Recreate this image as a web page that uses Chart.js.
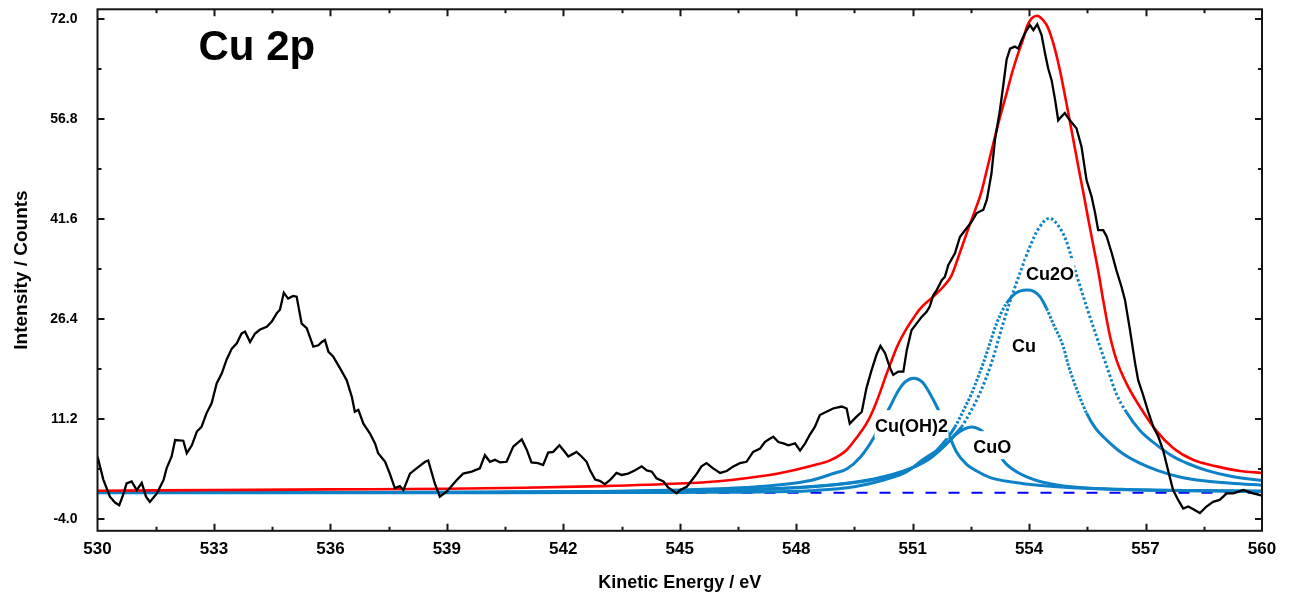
<!DOCTYPE html>
<html><head><meta charset="utf-8">
<script src="https://cdn.jsdelivr.net/npm/chart.js@4.4.1/dist/chart.umd.min.js"></script>
<style>html,body{margin:0;padding:0;background:#fff;}canvas{display:block;}</style>
</head><body>
<canvas id="c" width="1295" height="595"></canvas>
<script>
// ---------- data ----------
const xTickValues = [530, 533, 536, 539, 542, 545, 548, 551, 554, 557, 560];
const yTickValues = [-4.0, 11.2, 26.4, 41.6, 56.8, 72.0];

// measured spectrum (black)
const expE = [530.00,530.15,530.32,530.45,530.56,530.65,530.75,530.88,531.01,531.14,531.25,531.35,531.53,531.70,531.78,531.91,532.00,532.21,532.30,532.43,532.56,532.68,532.81,532.94,533.07,533.20,533.33,533.46,533.59,533.71,533.80,533.93,534.06,534.19,534.36,534.49,534.62,534.70,534.80,534.91,535.04,535.13,535.26,535.39,535.56,535.69,535.78,535.86,535.95,536.07,536.25,536.42,536.55,536.63,536.72,536.85,537.02,537.15,537.23,537.41,537.53,537.66,537.79,537.88,538.05,538.22,538.44,538.52,538.69,538.82,539.00,539.25,539.42,539.64,539.85,539.98,540.11,540.24,540.37,540.54,540.71,540.93,541.06,541.18,541.35,541.48,541.61,541.74,541.90,542.00,542.13,542.34,542.47,542.60,542.69,542.82,542.94,543.07,543.20,543.37,543.50,543.67,543.85,544.02,544.15,544.28,544.40,544.58,544.70,544.92,545.01,545.18,545.31,545.44,545.56,545.69,545.86,546.04,546.21,546.38,546.55,546.72,546.89,547.07,547.19,547.32,547.41,547.54,547.67,547.80,547.97,548.10,548.23,548.35,548.48,548.61,548.78,548.95,549.17,549.30,549.38,549.51,549.69,549.81,549.94,550.07,550.17,550.29,550.42,550.50,550.63,550.76,550.85,550.97,551.10,551.23,551.36,551.44,551.53,551.62,551.75,551.83,551.92,552.09,552.22,552.35,552.52,552.65,552.82,552.91,553.03,553.12,553.25,553.33,553.42,553.51,553.63,553.72,553.81,553.89,554.02,554.11,554.21,554.32,554.41,554.49,554.58,554.67,554.75,554.84,554.92,555.05,555.22,555.35,555.48,555.61,555.70,555.78,555.91,556.00,556.13,556.25,556.38,556.47,556.60,556.73,556.81,556.94,557.07,557.20,557.33,557.45,557.58,557.71,557.84,557.97,558.10,558.23,558.40,558.57,558.74,558.91,559.09,559.26,559.52,559.77,559.98];
const expI = [5.5,2.0,-0.6,-1.5,-1.9,-0.5,1.4,1.7,0.4,1.5,-0.6,-1.4,-0.1,1.9,3.7,5.5,8.0,7.9,6.0,7.2,9.3,10.0,12.1,13.6,16.6,18.1,20.3,21.9,22.7,24.2,24.5,22.9,24.2,24.8,25.2,26.0,27.3,27.8,30.4,29.5,29.9,29.8,25.7,25.0,22.2,22.4,22.9,23.2,21.4,20.7,18.9,17.1,14.6,12.3,12.6,10.5,9.0,7.5,6.0,4.7,2.9,0.7,1.0,0.4,2.9,3.7,4.7,4.9,1.4,-0.6,0.2,1.9,2.9,3.2,3.7,5.7,4.7,5.0,4.6,4.7,7.0,8.1,6.5,4.6,4.5,4.2,6.1,6.2,7.2,6.5,5.5,6.2,5.5,4.7,3.4,2.0,1.8,1.3,1.9,3.0,2.7,2.9,3.4,4.0,3.4,3.2,2.2,1.7,0.8,-0.1,0.4,0.9,1.9,2.9,4.0,4.5,3.7,3.0,3.3,4.0,4.5,4.7,6.2,6.7,7.7,8.2,8.5,7.7,7.5,7.2,7.5,6.4,7.5,8.8,10.0,11.8,12.3,12.8,13.1,12.8,10.5,11.3,12.3,15.9,18.6,21.0,22.3,21.2,18.9,17.9,18.4,18.4,21.7,24.7,25.7,26.7,27.5,28.3,30.0,30.8,32.3,32.8,34.6,36.4,38.9,39.9,41.2,42.5,43.0,44.5,48.5,53.6,58.2,61.7,65.8,67.5,67.8,67.5,68.8,69.8,71.1,70.3,71.2,69.6,66.8,64.5,62.7,59.7,56.6,57.2,57.7,56.6,55.4,52.6,47.5,45.0,42.5,39.9,39.9,38.9,36.4,33.8,31.3,29.3,24.7,19.7,17.1,14.8,12.3,10.0,8.5,6.5,3.4,0.4,-1.1,-2.4,-2.1,-2.5,-3.1,-2.1,-1.4,-1.1,-0.1,-0.1,0.4,-0.1,-0.4];

// fitted envelope (red)
const envE = [530.0,533.0,536.0,539.0,541.0,543.0,545.0,546.0,546.7,547.6,548.4,548.9,549.3,549.56,549.82,550.0,550.17,550.3,550.42,550.6,550.85,551.05,551.2,551.53,551.79,552.0,552.2,552.42,552.6,552.76,552.93,553.1,553.26,553.42,553.57,553.72,553.85,553.94,554.03,554.11,554.2,554.3,554.45,554.56,554.67,554.78,554.88,555.01,555.14,555.27,555.4,555.53,555.66,555.79,555.91,556.0,556.08,556.25,556.5,556.85,557.28,557.71,558.22,558.83,559.43,560.0];
const envI = [0.3,0.4,0.5,0.6,0.75,1.0,1.4,1.75,2.2,3.0,4.1,5.0,6.5,8.4,10.6,12.8,15.4,17.6,19.5,22.2,25.0,26.8,28.0,29.8,31.3,33.0,36.2,39.9,42.8,45.5,49.5,53.6,57.3,60.7,64.0,66.8,69.0,70.8,71.8,72.3,72.5,72.2,71.1,69.5,67.3,64.6,61.7,57.7,53.6,49.5,45.5,41.4,37.4,33.4,29.2,26.3,23.9,20.2,16.7,13.1,9.4,6.8,5.0,4.0,3.3,3.0];

// component Cu2O
const cu2oE = [530,536,540,543,545,546.5,547.5,548.5,549.3,550.0,550.5,551.0,551.4,551.8,552.05,552.26,552.5,552.73,553.03,553.33,553.55,553.76,554.02,554.25,554.52,554.75,554.95,555.21,555.48,555.74,556.0,556.25,556.5,556.85,557.3,557.71,558.1,558.57,559.2,560];
const cu2oI = [0.02,0.04,0.08,0.15,0.28,0.45,0.65,1.0,1.45,2.1,2.8,3.8,5.0,7.0,8.6,10.0,12.4,15.1,19.7,25.7,29.8,33.3,37.4,40.2,41.7,40.6,38.4,33.3,28.3,23.7,19.2,15.0,12.3,9.5,7.2,5.5,4.4,3.4,2.5,1.85];

// component Cu
const cuE = [530,536,540,543,545,546.5,547.5,548.5,549.3,550.0,550.5,551.0,551.3,551.6,551.88,552.09,552.3,552.52,552.7,552.82,552.99,553.16,553.42,553.65,553.94,554.12,554.28,554.45,554.62,554.88,555.01,555.14,555.3,555.48,555.7,556.0,556.4,556.85,557.3,557.88,558.5,559.2,560];
const cuI = [0.02,0.04,0.08,0.15,0.25,0.42,0.6,0.95,1.4,2.0,2.7,3.8,4.8,6.3,8.2,10.0,12.4,15.1,17.8,19.7,22.7,25.7,28.8,30.3,30.8,30.6,29.8,28.0,25.7,22.2,19.4,17.1,14.6,12.1,9.9,8.0,6.0,4.5,3.4,2.4,1.8,1.45,1.15];

// component Cu(OH)2
const cuohE = [530,536,540,543,545,546.0,546.7,547.6,548.4,549.0,549.3,549.65,550.0,550.2,550.42,550.6,550.8,551.02,551.25,551.45,551.62,551.8,551.92,552.13,552.39,552.65,553.0,553.6,554.3,555.0,556.5,558.0,560.0];
const cuohI = [0.02,0.04,0.08,0.2,0.4,0.6,0.8,1.2,1.9,3.0,3.6,5.4,8.4,10.8,13.1,15.2,16.8,17.4,16.8,15.0,13.1,10.8,9.0,6.2,4.3,3.3,2.3,1.6,1.1,0.8,0.5,0.35,0.25];

// component CuO
const cuoE = [530,538,543,545,547,548.5,549.5,550.3,550.85,551.26,551.7,551.96,552.1,552.3,552.52,552.7,552.82,553.05,553.25,553.42,553.7,553.94,554.28,554.8,555.5,556.5,558.0,560.0];
const cuoI = [0.0,0.0,0.02,0.05,0.12,0.35,0.9,2.0,3.2,5.0,6.7,7.9,8.8,9.6,10.0,9.7,9.2,7.3,5.6,4.3,3.1,2.4,1.7,1.1,0.7,0.45,0.3,0.2];

// background line
const baseE = [530, 560];
const baseI = [0, 0];

// peak annotations (text, anchor energy, anchor intensity at text baseline)
const peakNames = ['Cu2O', 'Cu', 'Cu(OH)2', 'CuO'];
const peakNameE = [554.54, 553.87, 550.97, 553.05];
const peakNameI = [32.3, 21.4, 9.2, 6.0];

// ---------- chart ----------
const FONT = '"Liberation Sans", Arial, Helvetica, sans-serif';
const BLUE = 'rgb(14,130,198)';
const pts = (xs, ys) => xs.map((x, i) => ({x: x, y: ys[i]}));
const dotted = (vals, lo, hi, dash) => c => {
  const a = vals[c.p0DataIndex], b = vals[c.p1DataIndex];
  return (Math.min(a, b) >= lo && Math.max(a, b) <= hi) ? dash : undefined;
};

function drawPeakNames(chart) {
  const ctx = chart.ctx, xs = chart.scales.x, ys = chart.scales.y;
  ctx.save();
  ctx.font = 'bold 18px ' + FONT;
  ctx.textAlign = 'center';
  ctx.textBaseline = 'alphabetic';
  peakNames.forEach((t, i) => {
    const px = xs.getPixelForValue(peakNameE[i]);
    const py = ys.getPixelForValue(peakNameI[i]);
    const w = ctx.measureText(t).width;
    ctx.fillStyle = '#fff';
    ctx.fillRect(px - w / 2 - 0.5, py - 22, w + 1, 28);
    ctx.fillStyle = '#000';
    ctx.fillText(t, px, py);
  });
  ctx.restore();
}

const framePlugin = {
  id: 'frame',
  afterDatasetDraw(chart, args) {
    if (args.index === 2) drawPeakNames(chart);
  },
  afterDraw(chart) {
    const ctx = chart.ctx, ca = chart.chartArea, xs = chart.scales.x, ys = chart.scales.y;
    ctx.save();
    ctx.strokeStyle = '#151515';
    ctx.lineWidth = 2;
    ctx.strokeRect(ca.left, ca.top, ca.right - ca.left, ca.bottom - ca.top);
    ctx.beginPath();
    const xTk = [];
    xTickValues.forEach((v, i) => {
      xTk.push([v, 7]);
      if (i < xTickValues.length - 1) xTk.push([(v + xTickValues[i + 1]) / 2, 4]);
    });
    xTk.forEach(([v, L]) => {
      const p = Math.round(xs.getPixelForValue(v)) + 0.5;
      if (p <= ca.left + 1 || p >= ca.right - 1) return;
      ctx.moveTo(p, ca.bottom); ctx.lineTo(p, ca.bottom - L);
      ctx.moveTo(p, ca.top); ctx.lineTo(p, ca.top + L);
    });
    const yTk = [];
    yTickValues.forEach((v, i) => {
      yTk.push([v, 7]);
      if (i < yTickValues.length - 1) yTk.push([(v + yTickValues[i + 1]) / 2, 4]);
    });
    yTk.forEach(([v, L]) => {
      const p = Math.round(ys.getPixelForValue(v));
      ctx.moveTo(ca.left, p); ctx.lineTo(ca.left + L, p);
      ctx.moveTo(ca.right, p); ctx.lineTo(ca.right - L, p);
    });
    ctx.stroke();
    // panel title
    ctx.fillStyle = '#000';
    ctx.font = 'bold 42px ' + FONT;
    ctx.textAlign = 'left';
    ctx.textBaseline = 'alphabetic';
    ctx.fillText('Cu 2p', ca.left + 101, ca.top + 51);
    ctx.restore();
  }
};

Chart.defaults.font.family = FONT;
new Chart(document.getElementById('c'), {
  type: 'line',
  data: {
    datasets: [
      {label: 'Experiment', data: pts(expE, expI), borderColor: '#000', borderWidth: 2.3, tension: 0},
      {label: 'Envelope', data: pts(envE, envI), borderColor: '#ff0000', borderWidth: 2.6, cubicInterpolationMode: 'monotone'},
      {label: 'Cu2O', data: pts(cu2oE, cu2oI), borderColor: BLUE, borderWidth: 3, cubicInterpolationMode: 'monotone',
        segment: {borderDash: dotted(cu2oI, 10, 100, [2.5, 2.3])}},
      {label: 'Cu', data: pts(cuE, cuI), borderColor: BLUE, borderWidth: 3, cubicInterpolationMode: 'monotone',
        segment: {borderDash: dotted(cuI, 10, 29, [2.5, 1.7])}},
      {label: 'Cu(OH)2', data: pts(cuohE, cuohI), borderColor: BLUE, borderWidth: 3, cubicInterpolationMode: 'monotone'},
      {label: 'CuO', data: pts(cuoE, cuoI), borderColor: BLUE, borderWidth: 3, cubicInterpolationMode: 'monotone'},
      {label: 'Baseline', data: pts(baseE, baseI), borderColor: '#0000ff', borderWidth: 2, borderDash: [11, 12]}
    ]
  },
  options: {
    responsive: false,
    animation: false,
    devicePixelRatio: 1,
    elements: {point: {radius: 0, hoverRadius: 0}},
    layout: {padding: {top: 9.3, right: 33, left: 0, bottom: 0}},
    plugins: {legend: {display: false}, tooltip: {enabled: false}},
    events: [],
    scales: {
      x: {
        type: 'linear', min: 530, max: 560,
        grid: {display: false, drawTicks: false}, border: {display: false},
        afterBuildTicks: s => { s.ticks = xTickValues.map(v => ({value: v})); },
        afterFit: s => { s.height = 64.2; s.paddingLeft = 0; s.paddingRight = 0; },
        ticks: {padding: 8, autoSkip: false, maxRotation: 0, color: '#000',
          font: {size: 17, weight: 'bold'}, callback: v => String(Math.round(v))},
        title: {display: true, text: 'Kinetic Energy / eV', color: '#000',
          font: {size: 18, weight: 'bold'}, padding: {top: 0, bottom: 1}}
      },
      y: {
        type: 'linear', min: -5.79, max: 73.47,
        grid: {display: false, drawTicks: false}, border: {display: false},
        afterBuildTicks: s => { s.ticks = yTickValues.map(v => ({value: v})); },
        afterFit: s => { s.width = 97.5; s.paddingTop = 0; s.paddingBottom = 0; },
        ticks: {padding: 20, autoSkip: false, color: '#000',
          font: {size: 14, weight: 'bold'}, callback: v => Number(v).toFixed(1)},
        title: {display: true, text: 'Intensity / Counts', color: '#000',
          font: {size: 19, weight: 'bold'}, padding: {top: 10.5, bottom: 0}}
      }
    }
  },
  plugins: [framePlugin]
});
</script>
</body></html>
